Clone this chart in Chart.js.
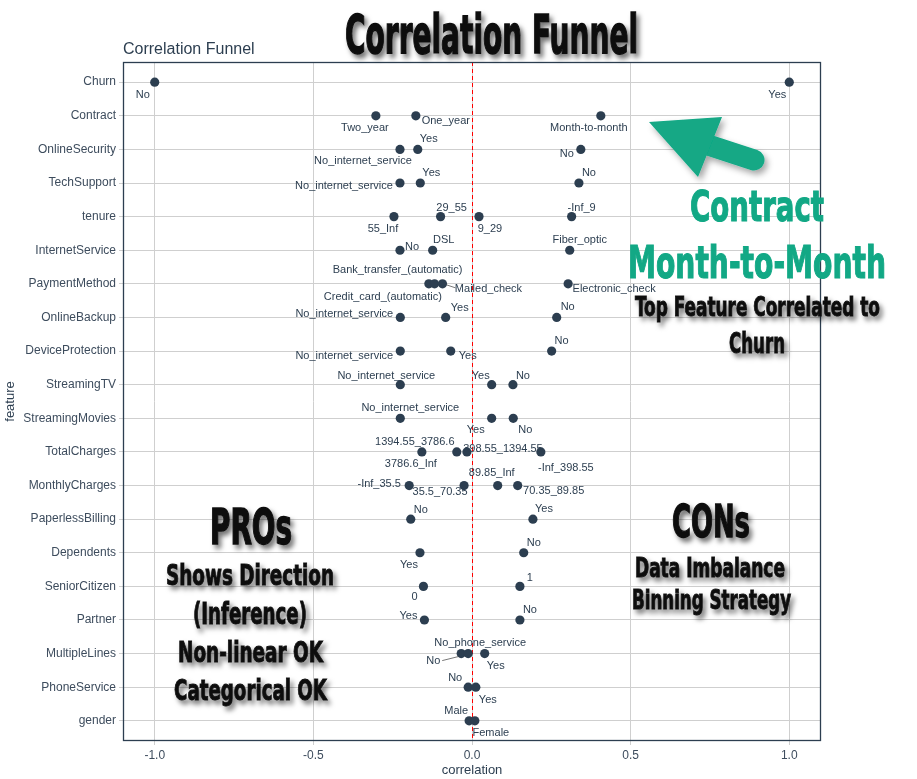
<!DOCTYPE html>
<html><head><meta charset="utf-8">
<script src="https://cdn.jsdelivr.net/npm/chart.js@4.4.0/dist/chart.umd.min.js"></script>
<style>
html,body{margin:0;padding:0;background:#fff;}
#wrap{position:relative;width:917px;height:779px;overflow:hidden;}
#c{position:absolute;left:0;top:0;}
#ov{position:absolute;left:0;top:0;pointer-events:none;}
.big{font-family:"Liberation Sans Narrow","DejaVu Sans Condensed","Liberation Sans",sans-serif;font-weight:bold;}
</style></head><body>
<div id="wrap">
<canvas id="c" width="917" height="779"></canvas>
<svg id="ov" width="917" height="779" xmlns="http://www.w3.org/2000/svg">
  <defs>
    <filter id="sh" x="-20%" y="-40%" width="140%" height="180%">
      <feDropShadow dx="3" dy="4" stdDeviation="2.5" flood-color="#000" flood-opacity="0.55"/>
    </filter>
    <filter id="sh2" x="-20%" y="-40%" width="140%" height="180%">
      <feDropShadow dx="3" dy="4" stdDeviation="3" flood-color="#000" flood-opacity="0.35"/>
    </filter>
  </defs>
  <g filter="url(#sh2)">
    <line x1="702" y1="143" x2="754" y2="160" stroke="#12a885" stroke-width="21" stroke-linecap="round"/>
    <polygon points="649,122 722,117 698,177" fill="#12a885"/>
  </g>
  <g class="big" fill="#111" stroke="#111" stroke-width="0.9" filter="url(#sh)">
    <text x="345" y="53" font-size="53" stroke-width="1.4" textLength="293" lengthAdjust="spacingAndGlyphs">Correlation Funnel</text>
    <text x="635" y="316" font-size="27" textLength="245" lengthAdjust="spacingAndGlyphs">Top Feature Correlated to</text>
    <text x="729" y="353" font-size="29" textLength="56" lengthAdjust="spacingAndGlyphs">Churn</text>
    <text x="210" y="544" font-size="49" stroke-width="1.4" textLength="82" lengthAdjust="spacingAndGlyphs">PROs</text>
    <text x="166" y="585" font-size="29" textLength="168" lengthAdjust="spacingAndGlyphs">Shows Direction</text>
    <text x="193" y="624" font-size="30" textLength="114" lengthAdjust="spacingAndGlyphs">(Inference)</text>
    <text x="178" y="662" font-size="28" textLength="145" lengthAdjust="spacingAndGlyphs">Non-linear OK</text>
    <text x="174" y="700" font-size="29" textLength="153" lengthAdjust="spacingAndGlyphs">Categorical OK</text>
    <text x="672" y="537" font-size="45" stroke-width="1.3" textLength="78" lengthAdjust="spacingAndGlyphs">CONs</text>
    <text x="635" y="577" font-size="27" textLength="150" lengthAdjust="spacingAndGlyphs">Data Imbalance</text>
    <text x="632" y="609" font-size="27" textLength="159" lengthAdjust="spacingAndGlyphs">Binning Strategy</text>
  </g>
  <g class="big" fill="#12a885" stroke="#12a885" stroke-width="1.1">
    <text x="690" y="221" font-size="43" textLength="134" lengthAdjust="spacingAndGlyphs">Contract</text>
    <text x="628" y="278" font-size="45" textLength="258" lengthAdjust="spacingAndGlyphs">Month-to-Month</text>
  </g>
</svg>
</div>
<script>
// ---------------- DATA ----------------
const features = ["Churn","Contract","OnlineSecurity","TechSupport","tenure","InternetService","PaymentMethod","OnlineBackup","DeviceProtection","StreamingTV","StreamingMovies","TotalCharges","MonthlyCharges","PaperlessBilling","Dependents","SeniorCitizen","Partner","MultipleLines","PhoneService","gender"];

const pointFeature = ["Churn","Churn","Contract","Contract","Contract","OnlineSecurity","OnlineSecurity","OnlineSecurity","TechSupport","TechSupport","TechSupport","tenure","tenure","tenure","tenure","InternetService","InternetService","InternetService","PaymentMethod","PaymentMethod","PaymentMethod","PaymentMethod","OnlineBackup","OnlineBackup","OnlineBackup","DeviceProtection","DeviceProtection","DeviceProtection","StreamingTV","StreamingTV","StreamingTV","StreamingMovies","StreamingMovies","StreamingMovies","TotalCharges","TotalCharges","TotalCharges","TotalCharges","MonthlyCharges","MonthlyCharges","MonthlyCharges","MonthlyCharges","PaperlessBilling","PaperlessBilling","Dependents","Dependents","SeniorCitizen","SeniorCitizen","Partner","Partner","MultipleLines","MultipleLines","MultipleLines","PhoneService","PhoneService","gender","gender"];

const pointBin = ["No","Yes","Two_year","One_year","Month-to-month","No_internet_service","Yes","No","No_internet_service","Yes","No","55_Inf","29_55","9_29","-Inf_9","No","DSL","Fiber_optic","Credit_card_(automatic)","Bank_transfer_(automatic)","Mailed_check","Electronic_check","No_internet_service","Yes","No","No_internet_service","Yes","No","No_internet_service","Yes","No","No_internet_service","Yes","No","3786.6_Inf","1394.55_3786.6","398.55_1394.55","-Inf_398.55","-Inf_35.5","35.5_70.35","89.85_Inf","70.35_89.85","No","Yes","Yes","No","0","1","Yes","No","No","No_phone_service","Yes","No","Yes","Male","Female"];

const pointCorr = [-1.0,1.0,-0.303,-0.177,0.406,-0.227,-0.171,0.343,-0.227,-0.163,0.337,-0.246,-0.099,0.022,0.314,-0.227,-0.124,0.308,-0.136,-0.118,-0.093,0.303,-0.226,-0.083,0.267,-0.226,-0.067,0.251,-0.226,0.062,0.129,-0.226,0.062,0.130,-0.158,-0.048,-0.016,0.217,-0.198,-0.025,0.081,0.144,-0.193,0.192,-0.164,0.163,-0.153,0.151,-0.150,0.151,-0.034,-0.012,0.040,-0.012,0.012,-0.009,0.009];

const xTickValues = [-1, -0.5, 0, 0.5, 1];

// ---------------- LAYOUT (label placement, px offsets from point) ----------------
const labelOffsets = [[-12,13],[-12,13],[-11,12],[30,5],[-12,12],[-37,12],[11,-10],[-14,5],[-56,3],[11,-10],[10,-10],[-11,12],[11,-9],[11,12],[10,-9],[12,-3],[11,-10],[10,-10],[-46,13],[-37,-14],[46,5],[46,5],[-56,-3],[14,-9],[11,-10],[-56,5],[17,5],[10,-10],[-14,-9],[-11,-9],[10,-9],[10,-10],[-16,12],[12,12],[-11,12],[-42,-10],[36,-3],[25,16],[-30,-2],[-24,6],[-6,-13],[36,5],[10,-9],[11,-10],[-11,12],[10,-10],[-9,11],[10,-8],[-16,-4],[10,-10],[-28,7],[12,-11],[11,12],[-13,-9],[12,13],[-13,-10],[16,12]];
// leader segments: [pointIndex, x1, y1, x2, y2] offsets from point
const leaders = [[20,4,1,13,4],[50,-3,3,-19,7]];

const INK = '#2c3e50';
const GRID = '#cfcfcf';

const dataPts = pointCorr.map((v,i)=>({x:v, y:features.indexOf(pointFeature[i])}));

const decor = {
  id:'decor',
  beforeDatasetsDraw(chart){
    const {ctx, chartArea:a, scales:{x}} = chart;
    const px = Math.round(x.getPixelForValue(0))+0.5;
    ctx.save();
    ctx.strokeStyle = '#ff0000';
    ctx.lineWidth = 1;
    ctx.setLineDash([4,3]);
    ctx.beginPath(); ctx.moveTo(px, a.top); ctx.lineTo(px, a.bottom); ctx.stroke();
    ctx.restore();
  },
  afterDatasetsDraw(chart){
    const {ctx} = chart;
    const meta = chart.getDatasetMeta(0);
    ctx.save();
    ctx.strokeStyle = '#555';
    ctx.lineWidth = 0.8;
    leaders.forEach(([i,x1,y1,x2,y2])=>{
      const p = meta.data[i];
      ctx.beginPath(); ctx.moveTo(p.x+x1, p.y+y1); ctx.lineTo(p.x+x2, p.y+y2); ctx.stroke();
    });
    ctx.fillStyle = INK;
    ctx.font = '11px "Liberation Sans", Arial, sans-serif';
    ctx.textAlign = 'center';
    ctx.textBaseline = 'middle';
    pointBin.forEach((t,i)=>{
      const p = meta.data[i];
      const [dx,dy] = labelOffsets[i];
      ctx.fillText(t, p.x+dx, p.y+dy);
    });
    ctx.restore();
  },
  afterDraw(chart){
    const {ctx, chartArea:a} = chart;
    ctx.save();
    ctx.strokeStyle = INK;
    ctx.lineWidth = 1.3;
    ctx.strokeRect(a.left+0.5, a.top+0.5, a.right-a.left-1, a.bottom-a.top-1);
    ctx.fillStyle = INK;
    ctx.font = '16px "Liberation Sans", Arial, sans-serif';
    ctx.textAlign = 'left'; ctx.textBaseline = 'alphabetic';
    ctx.fillText('Correlation Funnel', a.left, 54);
    ctx.font = '13px "Liberation Sans", Arial, sans-serif';
    ctx.textAlign = 'center'; ctx.textBaseline = 'middle';
    ctx.fillText('correlation', (a.left+a.right)/2, 770);
    ctx.translate(10, (a.top+a.bottom)/2);
    ctx.rotate(-Math.PI/2);
    ctx.fillText('feature', 0, 0);
    ctx.restore();
  }
};

new Chart(document.getElementById('c'), {
  type:'scatter',
  data:{ datasets:[{
    data: dataPts,
    backgroundColor: INK,
    borderColor: INK,
    pointRadius: 4.6,
    pointHoverRadius: 4.6,
    borderWidth: 0
  }]},
  options:{
    responsive:false,
    animation:false,
    events:[],
    layout:{ padding:{ top:62, right:96, left:0, bottom:0 } },
    plugins:{ legend:{display:false}, tooltip:{enabled:false}, title:{display:false} },
    scales:{
      x:{
        type:'linear', min:-1.1, max:1.1,
        afterBuildTicks(s){ s.ticks = xTickValues.map(v=>({value:v})); },
        afterFit(s){ s.height = 38; },
        grid:{ color:GRID, lineWidth:1, tickLength:4, tickColor:GRID },
        border:{ display:false },
        ticks:{ color:'#3d4c5d', font:{size:12, family:'"Liberation Sans", Arial, sans-serif'}, padding:3, maxRotation:0,
          callback:v=>Number(v).toFixed(1) }
      },
      y:{
        type:'linear', min:-0.6, max:19.6, reverse:true,
        afterBuildTicks(s){ s.ticks = features.map((f,i)=>({value:i})); },
        afterFit(s){ s.width = 123; },
        grid:{ color:GRID, lineWidth:1, tickLength:4, tickColor:GRID },
        border:{ display:false },
        ticks:{ color:'#3d4c5d', font:{size:12, family:'"Liberation Sans", Arial, sans-serif'}, padding:3,
          callback:v=>features[v] }
      }
    }
  },
  plugins:[decor]
});
</script>
</body></html>
